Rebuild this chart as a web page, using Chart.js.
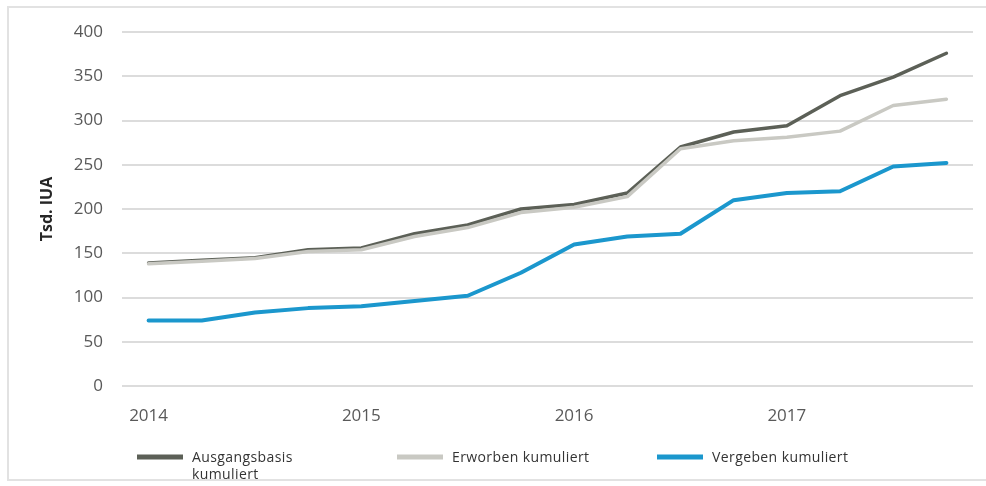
<!DOCTYPE html>
<html lang="de">
<head>
<meta charset="utf-8">
<title>Tsd. IUA kumuliert 2014–2017</title>
<script src="https://cdn.jsdelivr.net/npm/chart.js@4.4.1/dist/chart.umd.min.js"></script>
<style>
  html, body { margin: 0; padding: 0; background: #ffffff; }
  #wrap { position: relative; width: 986px; height: 486px; }
  canvas { display: block; }
</style>
</head>
<body>
<div id="wrap"><canvas id="chart" width="986" height="486"></canvas></div>
<script>
// Quarterly values, Q1 2014 to Q4 2017 (Tsd. IUA)
const quarters = [
  'Q1 2014', 'Q2 2014', 'Q3 2014', 'Q4 2014',
  'Q1 2015', 'Q2 2015', 'Q3 2015', 'Q4 2015',
  'Q1 2016', 'Q2 2016', 'Q3 2016', 'Q4 2016',
  'Q1 2017', 'Q2 2017', 'Q3 2017', 'Q4 2017'
];
const yearTicks = ['2014', '', '', '', '2015', '', '', '', '2016', '', '', '', '2017', '', '', ''];

const ausgangsbasis = [139, 142, 145, 154, 156, 172, 182, 200, 205, 218, 270, 287, 294, 328, 349, 376];
const erworben      = [138, 141, 144, 152, 154, 169, 179, 196, 202, 214, 268, 277, 281, 288, 317, 324];
const vergeben      = [74, 74, 83, 88, 90, 96, 102, 128, 160, 169, 172, 210, 218, 220, 248, 252];

const seriesNames = ['Ausgangsbasis\nkumuliert', 'Erworben kumuliert', 'Vergeben kumuliert'];
const yTitle = 'Tsd. IUA';

Chart.defaults.font.family = "'Open Sans', 'DejaVu Sans', sans-serif";

// Light frame around the whole figure
const framePlugin = {
  id: 'frame',
  beforeDraw(chart) {
    const ctx = chart.ctx;
    ctx.save();
    ctx.strokeStyle = '#e2e2e2';
    ctx.lineWidth = 2;
    ctx.beginPath();
    ctx.moveTo(986, 7);
    ctx.lineTo(8, 7);
    ctx.lineTo(8, 480);
    ctx.lineTo(986, 480);
    ctx.stroke();
    ctx.restore();
  }
};

// Legend row below the axis: line swatch + label, evenly spaced
const legendRow = {
  id: 'legendRow',
  afterDraw(chart) {
    const ctx = chart.ctx;
    const startX = 137, stepX = 260, lineY = 457, swatch = 46;
    ctx.save();
    chart.data.datasets.forEach((ds, i) => {
      const x = startX + i * stepX;
      ctx.strokeStyle = ds.borderColor;
      ctx.lineWidth = 5;
      ctx.lineCap = 'butt';
      ctx.beginPath();
      ctx.moveTo(x, lineY);
      ctx.lineTo(x + swatch, lineY);
      ctx.stroke();
      ctx.fillStyle = '#333333';
      ctx.font = "14px 'Open Sans', sans-serif";
      if ('letterSpacing' in ctx) ctx.letterSpacing = '0.4px';
      ctx.textAlign = 'left';
      ctx.textBaseline = 'middle';
      ds.label.split('\n').forEach((line, k) => {
        ctx.fillText(line, x + swatch + 9, lineY + 1 + k * 17);
      });
    });
    ctx.restore();
  }
};

new Chart(document.getElementById('chart'), {
  type: 'line',
  data: {
    labels: quarters,
    datasets: [
      { label: seriesNames[0], data: ausgangsbasis, borderColor: '#5c6057', borderWidth: 3.5, order: 3 },
      { label: seriesNames[1], data: erworben, borderColor: '#c9c9c3', borderWidth: 3.5, order: 2 },
      { label: seriesNames[2], data: vergeben, borderColor: '#1b97cd', borderWidth: 4, order: 1 }
    ]
  },
  options: {
    responsive: false,
    animation: false,
    devicePixelRatio: 1,
    layout: { padding: { top: 32, right: 13, bottom: 0, left: 0 } },
    elements: {
      point: { radius: 0, hoverRadius: 0 },
      line: { tension: 0, borderCapStyle: 'round', borderJoinStyle: 'round', fill: false }
    },
    plugins: {
      legend: { display: false },
      tooltip: { enabled: false }
    },
    scales: {
      x: {
        offset: true,
        grid: { display: false },
        border: { display: false },
        ticks: {
          autoSkip: false,
          maxRotation: 0,
          padding: 12,
          color: '#595959',
          font: { size: 17 },
          callback: (value, index) => yearTicks[index] || null
        },
        afterFit: (scale) => { scale.height = 100; }
      },
      y: {
        min: 0,
        max: 400,
        border: { display: false },
        grid: { color: '#dcdcdc', lineWidth: 2, drawTicks: false },
        ticks: {
          stepSize: 50,
          padding: 19,
          color: '#595959',
          font: { size: 17 }
        },
        title: {
          display: true,
          text: yTitle,
          color: '#262626',
          font: { size: 16, weight: 'bold' },
          padding: { top: 38, bottom: 0 }
        },
        afterFit: (scale) => { scale.width = 122; }
      }
    }
  },
  plugins: [framePlugin, legendRow]
});
</script>
</body>
</html>
